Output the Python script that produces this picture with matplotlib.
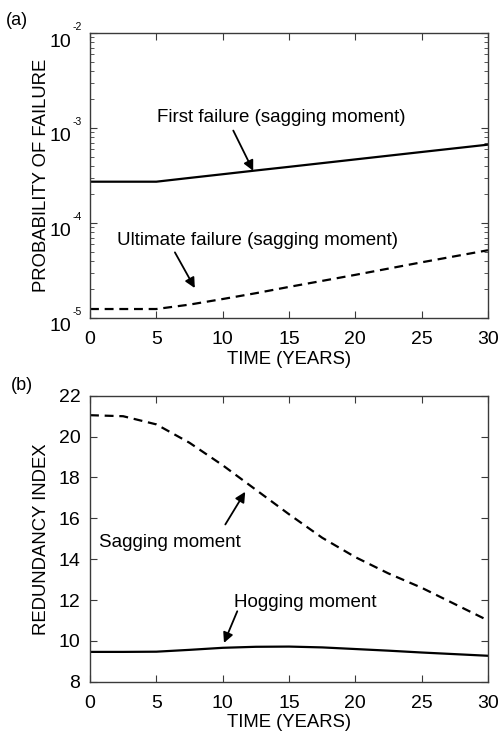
import numpy as np
import matplotlib.pyplot as plt
from matplotlib.ticker import FixedLocator, FuncFormatter, LogLocator, NullFormatter
from matplotlib.transforms import ScaledTranslation

plt.rcParams['font.family'] = ['Liberation Sans', 'DejaVu Sans']

# probability of failure vs time (sagging moment)
t_pf = [0, 5, 7.5, 10, 12.5, 15, 20, 25, 30]
pf_first = [2.72e-4, 2.72e-4, 2.98e-4, 3.26e-4, 3.57e-4, 3.90e-4, 4.67e-4, 5.59e-4, 6.68e-4]
pf_ult = [1.24e-5, 1.24e-5, 1.38e-5, 1.58e-5, 1.82e-5, 2.12e-5, 2.84e-5, 3.85e-5, 5.16e-5]
decades = [-5, -4, -3, -2]

# redundancy index vs time
t_ri = [0, 2.5, 5, 7.5, 10, 12.5, 15, 17.5, 20, 22.5, 25, 27.5, 30]
ri_sag = [21.05, 21.0, 20.6, 19.7, 18.6, 17.4, 16.2, 15.05, 14.1, 13.3, 12.6, 11.8, 11.0]
ri_hog = [9.46, 9.46, 9.47, 9.56, 9.66, 9.71, 9.72, 9.68, 9.6, 9.52, 9.43, 9.35, 9.27]

years = [0, 5, 10, 15, 20, 25, 30]

fig = plt.figure(figsize=(5, 7.35), dpi=100)
ax1 = fig.add_axes([0.18, 0.5675, 0.796, 0.3875])
ax2 = fig.add_axes([0.18, 0.0725, 0.796, 0.389])

spine_col = '#3a3a3a'
arrow = dict(arrowstyle='-|>', lw=1.3, color='k', mutation_scale=15, shrinkA=0, shrinkB=0)
txt_size = 13.5
lab_size = 13.3

for ax in (ax1, ax2):
    for s in ax.spines.values():
        s.set_color(spine_col)
        s.set_linewidth(1.0)
    ax.tick_params(which='both', direction='in', top=True, right=True, color=spine_col)
    ax.tick_params(which='major', length=5, labelsize=14)
    ax.tick_params(which='minor', length=3)
    ax.tick_params(axis='x', pad=9.5)
    ax.tick_params(axis='y', pad=7)

# (a) probability of failure
ax1.semilogy(t_pf, pf_first, color='k', lw=1.6)
ax1.semilogy(t_pf, pf_ult, color='k', lw=1.6, linestyle=(0, (4, 2.6)))
ax1.set_xlim(0, 30)
ax1.set_ylim(1e-5, 1e-2)
ax1.xaxis.set_major_locator(FixedLocator(years))
ax1.yaxis.set_major_locator(FixedLocator([10.0 ** d for d in decades]))
ax1.yaxis.set_minor_locator(LogLocator(base=10, subs=np.arange(2, 10), numticks=10))
ax1.yaxis.set_minor_formatter(NullFormatter())
ax1.yaxis.set_major_formatter(FuncFormatter(lambda v, p: '10'))
ax1.tick_params(axis='y', pad=13.5)
# base "10" sits a little below its tick, exponent up and to the right
shift = ScaledTranslation(0, -5 / 72, fig.dpi_scale_trans)
for lab in ax1.get_yticklabels():
    lab.set_transform(lab.get_transform() + shift)
for d in decades:
    ax1.annotate(str(d), xy=(0, 10.0 ** d), xycoords=('axes fraction', 'data'),
                 xytext=(-12.3, 4.2), textcoords='offset points',
                 fontsize=7.5, ha='left', va='center')

ax1.set_ylabel('PROBABILITY OF FAILURE', fontsize=lab_size)
ax1.set_xlabel('TIME (YEARS)', fontsize=lab_size)
ax1.yaxis.set_label_coords(-0.10, 0.5)
ax1.xaxis.set_label_coords(0.5, -0.118)

ax1.text(14.4, 1.30e-3, 'First failure (sagging moment)', fontsize=txt_size, ha='center', va='center')
ax1.annotate('', xy=(12.3, 3.54e-4), xytext=(10.8, 9.4e-4), arrowprops=arrow)
ax1.text(12.66, 6.6e-5, 'Ultimate failure (sagging moment)', fontsize=txt_size, ha='center', va='center')
ax1.annotate('', xy=(7.9, 2.06e-5), xytext=(6.4, 4.9e-5), arrowprops=arrow)

# (b) redundancy index
ax2.plot(t_ri, ri_sag, color='k', lw=1.6, linestyle=(0, (4, 2.6)))
ax2.plot(t_ri, ri_hog, color='k', lw=1.6)
ax2.set_xlim(0, 30)
ax2.set_ylim(8, 22)
ax2.xaxis.set_major_locator(FixedLocator(years))
ax2.yaxis.set_major_locator(FixedLocator(range(8, 23, 2)))
ax2.set_ylabel('REDUNDANCY INDEX', fontsize=lab_size)
ax2.set_xlabel('TIME (YEARS)', fontsize=lab_size)
ax2.yaxis.set_label_coords(-0.10, 0.5)
ax2.xaxis.set_label_coords(0.5, -0.112)

ax2.text(6.0, 14.8, 'Sagging moment', fontsize=txt_size, ha='center', va='center')
ax2.annotate('', xy=(11.7, 17.3), xytext=(10.2, 15.7), arrowprops=arrow)
ax2.text(16.2, 11.9, 'Hogging moment', fontsize=txt_size, ha='center', va='center')
ax2.annotate('', xy=(10.1, 9.9), xytext=(11.1, 11.45), arrowprops=arrow)

fig.text(0.012, 0.972, '(a)', fontsize=13, ha='left', va='center')
fig.text(0.022, 0.476, '(b)', fontsize=13, ha='left', va='center')

fig.savefig('out.png', dpi=100)
